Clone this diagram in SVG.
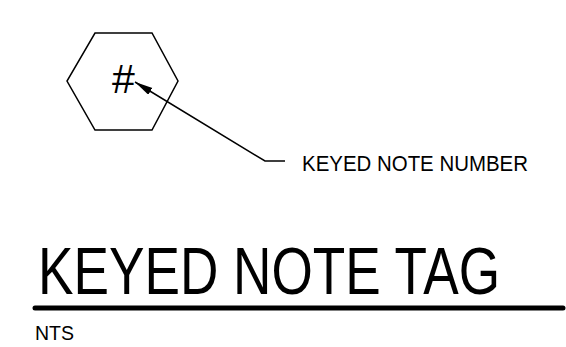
<svg xmlns="http://www.w3.org/2000/svg" width="566" height="347" viewBox="0 0 566 347">
<style>
.t{font-family:"Liberation Sans Narrow","Liberation Sans",Arial,sans-serif;fill:#000}
.ln{fill:none;stroke:#000;stroke-width:1.5}
</style>
<defs>
<marker id="ah" markerWidth="20" markerHeight="10" refX="18" refY="4" orient="auto" markerUnits="userSpaceOnUse">
<path d="M0,0 L18,4 L0,8 Z" fill="#000"/>
</marker>
</defs>
<rect width="566" height="347" fill="#fff"/>
<g id="tag">
<polygon class="ln" points="95,33 152,33 178,81 152,130 95,130 67,81"/>
<text class="t" x="123.5" y="93" font-size="41" text-anchor="middle">#</text>
</g>
<g id="label">
<text class="t" x="302" y="171" font-size="22" textLength="226" lengthAdjust="spacingAndGlyphs">KEYED NOTE NUMBER</text>
</g>
<g id="connectors">
<polyline class="ln" points="285,161 265,161 135,82" marker-end="url(#ah)"/>
</g>
<g id="title">
<text class="t" x="38" y="294" font-size="66" textLength="462" lengthAdjust="spacingAndGlyphs">KEYED NOTE TAG</text>
<line x1="35" y1="308" x2="563" y2="308" stroke="#000" stroke-width="5" stroke-linecap="round"/>
<text class="t" x="35" y="340" font-size="21" textLength="39" lengthAdjust="spacingAndGlyphs">NTS</text>
</g>
</svg>
